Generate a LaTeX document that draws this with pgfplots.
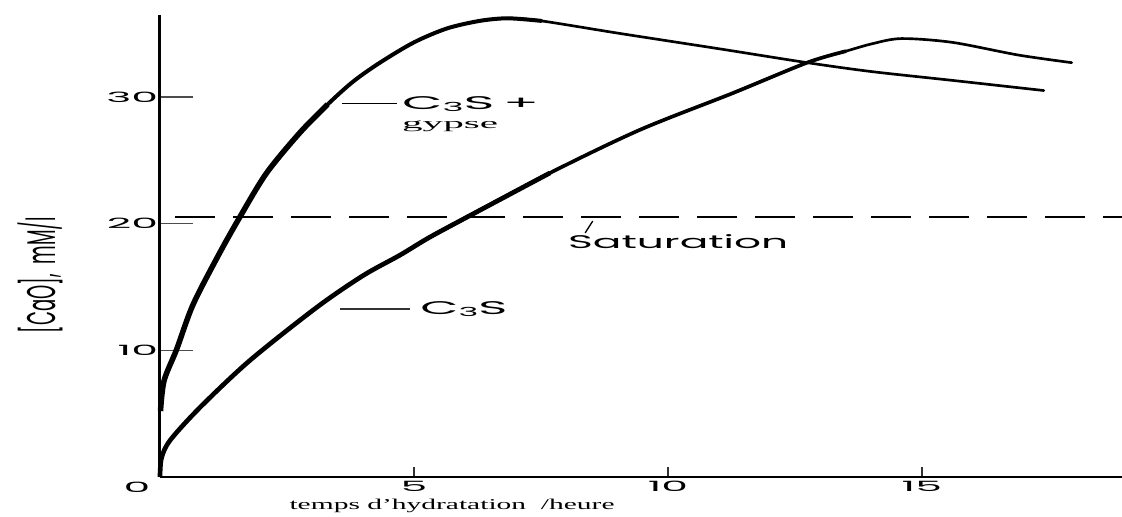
\documentclass[border=0pt]{standalone}
\usepackage{pgfplots}
\pgfplotsset{compat=1.18}
\usepackage{graphicx}
\usepackage{fontspec}
\setmainfont{Liberation Serif}
\newfontfamily\lett{Poppins}
\newcommand\tl[1]{\scalebox{3.0}[1]{\lett\fontsize{8.5}{9}\selectfont #1}}
\newcommand\sub[1]{\raisebox{-0.15ex}{\fontsize{7.5}{8}\selectfont #1}}
\begin{document}
\begin{tikzpicture}[x=0.6pt,y=0.6pt]
\begin{axis}[
  scale only axis, width=577.2pt, height=277.2pt,
  xmin=0, xmax=18.94, ymin=0, ymax=36.46,
  axis lines=left, axis line style={-},
  x axis line style={line width=1.2pt},
  y axis line style={line width=1.8pt},
  tick align=inside,
  xtick={5,10,15}, xticklabels={{\tl{5}},{\tl{10}},{\tl{15}}},
  ytick={10,20,30}, yticklabels={{\tl{10}},{\tl{20}},{\tl{30}}},
  xtick style={line width=0.8pt, black!80, /pgfplots/major tick length=6pt},
  ytick style={line width=0.8pt, black!70, /pgfplots/major tick length=19.8pt},
  xticklabel style={anchor=north, inner sep=1pt, yshift=-1.5pt},
  yticklabel style={anchor=east, inner sep=1pt, xshift=0pt},
  clip=false,
]
% saturation line
\addplot[line width=0.9pt, dash pattern=on 24pt off 10.8pt] coordinates {(0.3,20.5) (18.94,20.5)};
% C3S + gypse
\addplot[line width=3.3pt, smooth, tension=0.5] coordinates {
 (0.01,5.2) (0.08,7.6) (0.33,10.1) (0.65,13.6) (1.15,17.5) (1.57,20.5) (2.1,24.0) (2.76,27.2) (3.3,29.4)};
\addplot[line width=2.4pt, smooth, tension=0.5, line cap=round] coordinates {
 (2.1,24.0) (2.76,27.2) (3.3,29.4) (3.8,31.2) (4.33,32.7) (5.0,34.3) (5.65,35.4) (6.3,36.0) (6.85,36.2) (7.5,36.0)};
\addplot[line width=1.6pt, smooth, tension=0.5, line cap=round] coordinates {
 (6.3,36.0) (6.85,36.2) (7.5,36.0) (9.06,35.0) (11.0,33.8) (12.74,32.7) (14.0,32.0) (15.6,31.3) (17.4,30.5)};
% C3S
\addplot[line width=2.8pt, smooth, tension=0.5] coordinates {
 (0.0,0.0) (0.03,1.5) (0.2,2.9) (0.79,5.5) (1.77,9.2) (3.09,13.4) (4.0,15.9) (4.72,17.5) (5.3,18.9) (6.04,20.5) (7.68,24.0)};
\addplot[line width=2.2pt, smooth, tension=0.5, line cap=round] coordinates {
 (5.3,18.9) (6.04,20.5) (7.68,24.0) (9.45,27.4) (11.28,30.3) (12.74,32.7) (13.5,33.6)};
\addplot[line width=1.6pt, smooth, tension=0.5, line cap=round] coordinates {
 (11.28,30.3) (12.74,32.7) (13.5,33.6) (14.03,34.2) (14.6,34.6) (15.6,34.3) (16.9,33.3) (17.95,32.7)};
% annotations
\draw[line width=0.8pt] (axis cs:3.58,29.5) -- (axis cs:4.67,29.5);
\node[anchor=base west, inner sep=0pt] at (axis cs:4.76,28.97)
  {\resizebox{82.2pt}{\height}{\lett\fontsize{11}{12}\selectfont C\sub{3}S\,+}};
\node[anchor=base west, inner sep=0pt] at (axis cs:4.76,27.5)
  {\resizebox{57.6pt}{\height}{\fontsize{9}{10}\selectfont gypse}};
\draw[line width=0.8pt, black!80] (axis cs:3.54,13.26) -- (axis cs:4.92,13.26);
\node[anchor=base west, inner sep=0pt] at (axis cs:5.12,12.79)
  {\resizebox{52.2pt}{\height}{\lett\fontsize{11}{12}\selectfont C\sub{3}S}};
\node[anchor=base west, inner sep=0pt] at (axis cs:8.03,18.0)
  {\resizebox{132pt}{\height}{\lett\fontsize{11}{12}\selectfont Saturation}};
\draw[line width=0.8pt] (axis cs:8.37,19.26) -- (axis cs:8.52,20.2);
% origin label
\node[inner sep=0pt] at (axis cs:0,0) [xshift=-13.8pt, yshift=-6.3pt] {\tl{0}};
% axis labels
\node[inner sep=0pt, rotate=90] at ([xshift=-72pt]axis cs:0,15.94)
  {\resizebox{69.6pt}{2\height}{\lett\fontsize{12}{13}\selectfont [CaO],\ \ mM/l}};
\node[inner sep=0pt] at ([yshift=-17.5pt]axis cs:5.75,0)
  {\resizebox{195pt}{\height}{\fontsize{9}{10}\selectfont temps d'hydratation\ \ /heure}};
\end{axis}
\pgfresetboundingbox
\path[use as bounding box] (-160,-39) rectangle (962,477);
\end{tikzpicture}
\end{document}
